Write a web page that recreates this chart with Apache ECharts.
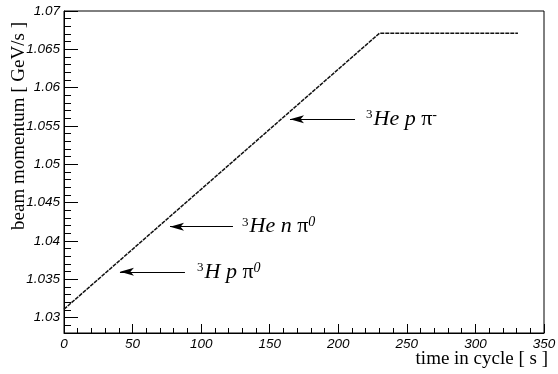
<!DOCTYPE html>
<html>
<head>
<meta charset="utf-8">
<script src="https://cdn.jsdelivr.net/npm/echarts@6/dist/echarts.min.js"></script>
<style>
html,body{margin:0;padding:0;background:#fff;}
#chart{width:558px;height:374px;}
</style>
</head>
<body>
<div id="chart"></div>
<script>
// ---- data ----
const timeS = [0, 230, 331];
const momentum = [1.0311, 1.0671, 1.0671];
const xTickValues = [0, 50, 100, 150, 200, 250, 300, 350];
const yMajorTicks = [1.03, 1.035, 1.04, 1.045, 1.05, 1.055, 1.06, 1.065, 1.07];
const yMinorTicks = [];
for (let k = 1028; k <= 1070; k++) { if (k % 5 !== 0) yMinorTicks.push(k / 1000); }
const annotationLabels = ['³He p π⁻', '³He n π⁰', '³H p π⁰'];
const annotationRich = [
  '{s|3}{i|He p }{g|π}{s2|-}',
  '{s|3}{i|He n }{g|π}{s2|0}',
  '{s|3}{i|H p }{g|π}{s2|0}'
];
// arrow tail / tip in data units (x: s, y: GeV/s)
const arrowY = [1.05587, 1.04187, 1.03598];
const arrowTip = [164.8, 77.3, 40.8];
const arrowTail = [212.2, 123.2, 88.2];
const textStart = [220.2, 129.8, 97.0];

const chart = echarts.init(document.getElementById('chart'), null, {renderer: 'canvas'});

const tickFont = {fontFamily: '"Liberation Sans", Arial, sans-serif', fontStyle: 'italic', fontWeight: 'normal', fontSize: 13.5, color: '#000'};
const titleFont = {fontFamily: 'Liberation Serif', fontSize: 19, color: '#000'};

const markLineData = arrowY.map((y, i) => [
  {coord: [arrowTail[i], y], symbol: 'none'},
  {coord: [arrowTip[i], y], symbol: 'arrow', symbolSize: [6, 14]}
]);
const rich = {
  s: {fontFamily: 'Liberation Serif', fontSize: 13, color: '#000', verticalAlign: 'top', padding: [0, 1, 0, 0]},
  i: {fontFamily: 'Liberation Serif', fontStyle: 'italic', fontSize: 22, color: '#000'},
  g: {fontFamily: 'Liberation Serif', fontSize: 22, color: '#000'},
  s2: {fontFamily: 'Liberation Serif', fontStyle: 'italic', fontSize: 14, color: '#000', verticalAlign: 'top'}
};
const markPointData = arrowY.map((y, i) => ({
  name: annotationLabels[i],
  coord: [textStart[i], y],
  symbol: 'circle', symbolSize: 0,
  label: {
    show: true, position: 'right', distance: 0,
    formatter: annotationRich[i], rich: rich
  }
}));

const option = {
  animation: false,
  backgroundColor: '#fff',
  grid: {left: 64, right: 14, top: 11, bottom: 41, containLabel: false, outerBoundsMode: 'none',
    show: true, borderColor: '#000', borderWidth: 1, backgroundColor: 'transparent'},
  xAxis: {
    type: 'value', min: 0, max: 350, interval: 50,
    name: 'time in cycle [ s ]', nameLocation: 'end', nameGap: 4, nameMoveOverlap: false,
    nameTextStyle: Object.assign({align: 'right', verticalAlign: 'top', padding: [17, 0, 0, 0]}, titleFont),
    axisLine: {show: true, lineStyle: {color: '#000', width: 1}},
    axisTick: {show: true, inside: true, length: 9, lineStyle: {color: '#000'}},
    minorTick: {show: true, splitNumber: 5, length: 5, lineStyle: {color: '#000'}},
    axisLabel: Object.assign({margin: 4, formatter: v => String(v)}, tickFont),
    splitLine: {show: false}
  },
  yAxis: [{
    type: 'value', min: 1.028, max: 1.07, position: 'left',
    name: 'beam momentum [ GeV/s ]', nameLocation: 'end', nameGap: 0, nameRotate: 90, nameMoveOverlap: false,
    nameTextStyle: Object.assign({align: 'right', verticalAlign: 'bottom', padding: [0, 11, 35, 0]}, titleFont),
    axisLine: {show: true, lineStyle: {color: '#000', width: 1}},
    axisTick: {show: true, inside: true, length: 14, customValues: yMajorTicks, lineStyle: {color: '#000'}},
    axisLabel: Object.assign({margin: 4, customValues: yMajorTicks, formatter: v => String(+v.toFixed(3))}, tickFont),
    splitLine: {show: false}
  }, {
    type: 'value', min: 1.028, max: 1.07, position: 'right', offset: -480,
    axisLine: {show: false},
    axisTick: {show: true, inside: false, length: 7, customValues: yMinorTicks, lineStyle: {color: '#000'}},
    axisLabel: {show: false},
    splitLine: {show: false}
  }],
  series: [{
    type: 'line',
    data: timeS.map((t, i) => [t, momentum[i]]),
    symbol: 'none',
    lineStyle: {color: '#111', width: 1.5, type: [4, 1]},
    markLine: {
      silent: true, animation: false,
      lineStyle: {color: '#000', width: 1, type: 'solid'},
      label: {show: false},
      data: markLineData
    },
    markPoint: {
      silent: true, animation: false,
      data: markPointData
    }
  }]
};
chart.setOption(option);
</script>
</body>
</html>
